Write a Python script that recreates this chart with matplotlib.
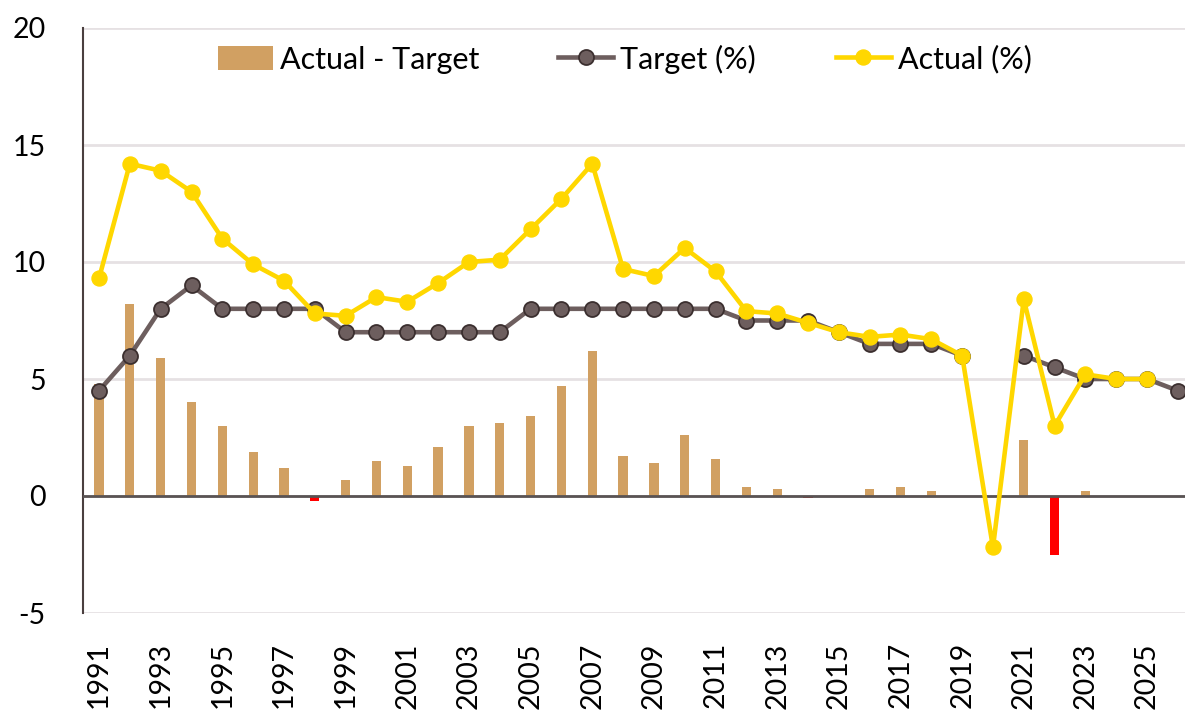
import numpy as np
import matplotlib
matplotlib.use("Agg")
import matplotlib.pyplot as plt
from matplotlib.patches import Patch
from matplotlib.lines import Line2D

plt.rcParams['font.family'] = ['Lato', 'DejaVu Sans']
plt.rcParams['axes.unicode_minus'] = False

years = list(range(1991, 2027))
target = [4.5, 6.0, 8.0, 9.0, 8.0, 8.0, 8.0, 8.0, 7.0, 7.0, 7.0, 7.0, 7.0, 7.0,
          8.0, 8.0, 8.0, 8.0, 8.0, 8.0, 8.0, 7.5, 7.5, 7.5, 7.0, 6.5, 6.5, 6.5,
          6.0, np.nan, 6.0, 5.5, 5.0, 5.0, 5.0, 4.5]
actual = [9.3, 14.2, 13.9, 13.0, 11.0, 9.9, 9.2, 7.8, 7.7, 8.5, 8.3, 9.1, 10.0, 10.1,
          11.4, 12.7, 14.2, 9.7, 9.4, 10.6, 9.6, 7.9, 7.8, 7.4, 7.0, 6.8, 6.9, 6.7,
          6.0, -2.2, 8.4, 3.0, 5.2, 5.0, 5.0, np.nan]
gap = [4.8, 8.2, 5.9, 4.0, 3.0, 1.9, 1.2, -0.2, 0.7, 1.5, 1.3, 2.1, 3.0, 3.1,
       3.4, 4.7, 6.2, 1.7, 1.4, 2.6, 1.6, 0.4, 0.3, -0.1, 0.0, 0.3, 0.4, 0.2,
       0.0, np.nan, 2.4, -2.5, 0.2, 0.0, 0.0, np.nan]
tick_years = list(range(1991, 2027, 2))

TAN = '#D1A062'
RED = '#FF0000'
TARGET = '#6D5E5E'
TARGET_EDGE = '#3B2F2F'
GOLD = '#FFD700'
LW = 3.3
MS = 10.8

fig = plt.figure(figsize=(11.85, 7.11), dpi=100)
ax = fig.add_axes([83 / 1185, 98 / 711, 1 - 83 / 1185, (613 - 28) / 711])

# Actual minus target bars, negative gaps in red
bx = [y for y, g in zip(years, gap) if not np.isnan(g)]
bh = [g for g in gap if not np.isnan(g)]
bc = [TAN if g >= 0 else RED for g in bh]
ax.bar(bx, bh, width=0.3, color=bc, zorder=2)

ax.plot(years, target, color=TARGET, lw=LW, marker='o', markersize=MS,
        markerfacecolor=TARGET, markeredgecolor=TARGET_EDGE, markeredgewidth=1.3,
        zorder=4)
ax.plot(years, actual, color=GOLD, lw=LW, marker='o', markersize=MS,
        markerfacecolor=GOLD, markeredgecolor=GOLD, zorder=5)

ax.axhline(0, color='#595353', lw=2.0, zorder=3)

ax.set_xlim(1990.48, 2026.23)
ax.set_ylim(-5, 20)
ax.set_yticks([-5, 0, 5, 10, 15, 20])
ax.set_xticks(tick_years)
ax.set_xticklabels([str(y) for y in tick_years], rotation=90)
ax.tick_params(axis='y', length=0, pad=27, labelsize=20.5)
ax.tick_params(axis='x', length=0, pad=21, labelsize=20.5)

ax.yaxis.grid(True, color='#E6E1E3', lw=2.0, zorder=0)
ax.set_axisbelow(True)
for s in ('top', 'right', 'bottom'):
    ax.spines[s].set_visible(False)
ax.spines['left'].set_color('#4A3F3F')
ax.spines['left'].set_linewidth(1.5)

handles = [
    Patch(facecolor=TAN, edgecolor='none', label='Actual - Target'),
    Line2D([], [], color=TARGET, lw=LW, marker='o', markersize=MS,
           markerfacecolor=TARGET, markeredgecolor=TARGET_EDGE,
           markeredgewidth=1.3, label='Target (%)'),
    Line2D([], [], color=GOLD, lw=LW, marker='o', markersize=MS,
           markerfacecolor=GOLD, markeredgecolor=GOLD, label='Actual (%)'),
]
fig.legend(handles=handles, loc='center', bbox_to_anchor=(0.527, 0.917),
           ncol=3, frameon=False, fontsize=22, handlelength=1.8,
           handleheight=0.8, handletextpad=0.23, columnspacing=2.6)

fig.savefig('out.png', dpi=100)
